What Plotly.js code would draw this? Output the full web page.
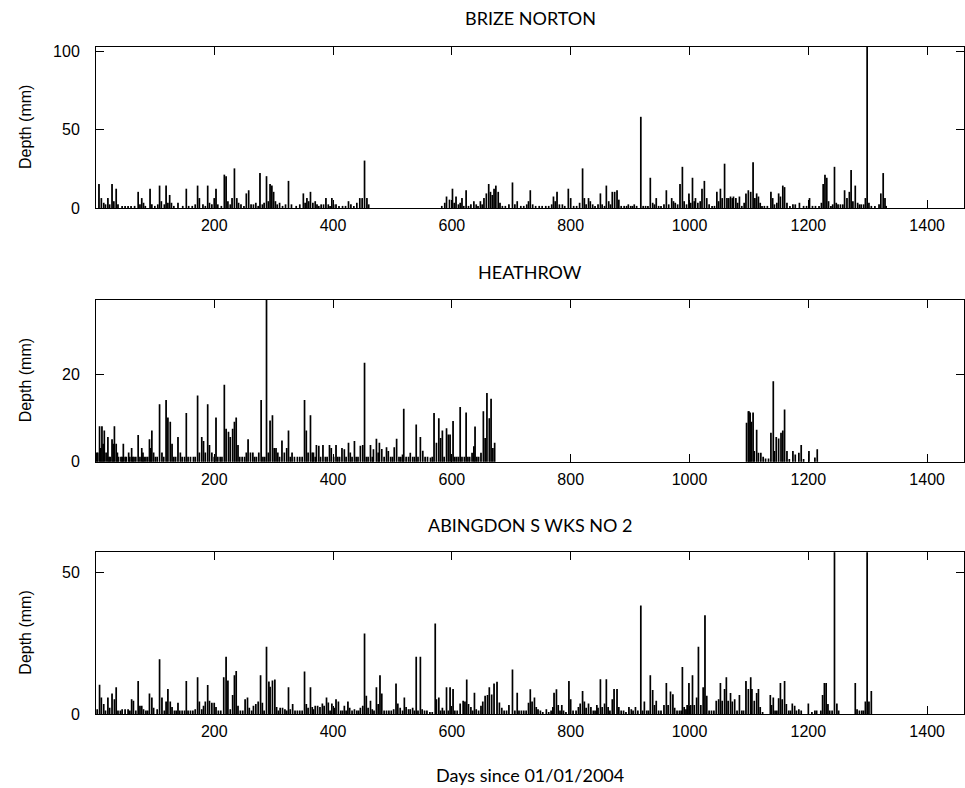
<!DOCTYPE html>
<html>
<head>
<meta charset="utf-8">
<script src="https://cdn.plot.ly/plotly-3.0.1.min.js"></script>
<style>html,body{margin:0;padding:0;background:#fff;}</style>
</head>
<body>
<div id="chart" style="width:965px;height:788px;"></div>
<script>
// Daily rainfall depth (mm): [day, depth]; unlisted days are dry / no data
const stationTitles = ["BRIZE NORTON", "HEATHROW", "ABINGDON S WKS NO 2"];
const xTicks = [200, 400, 600, 800, 1000, 1200, 1400];
const yTicksBrize = [0, 50, 100];
const yTicksHeathrow = [0, 20];
const yTicksAbingdon = [0, 50];
const yMaxBrize = 103, yMaxHeathrow = 37, yMaxAbingdon = 57;

const brizeNorton = [[6,15],[10,6],[14,3],[17,2],[21,6],[24,2],[28,15],[31,4],[35,12],[38,2],[45,1],[50,1],[55,1],[60,1],[66,1],[72,10],[75,2],[78,6],[81,3],[84,1],[92,12],[95,2],[100,1],[105,2],[108,14],[111,4],[116,2],[119,14],[122,3],[125,8],[128,3],[132,1],[139,3],[147,1],[153,12],[157,1],[163,1],[168,2],[172,14],[175,6],[181,2],[185,1],[189,14],[192,3],[196,2],[200,6],[203,12],[206,2],[212,1],[217,21],[220,20],[223,4],[227,2],[230,6],[234,25],[238,6],[241,3],[245,2],[250,1],[254,9],[258,11],[262,2],[266,2],[270,3],[274,1],[277,22],[281,2],[284,3],[288,20],[291,4],[294,15],[297,14],[300,10],[303,4],[306,2],[310,3],[315,1],[320,2],[325,17],[330,2],[338,1],[344,2],[350,9],[353,3],[356,6],[359,4],[362,10],[366,3],[370,4],[373,2],[376,1],[380,2],[384,2],[388,6],[392,2],[395,1],[398,6],[401,2],[405,2],[410,1],[416,1],[421,1],[426,4],[430,2],[435,1],[440,3],[445,6],[449,6],[453,30],[457,6],[460,2],
[583,1],[588,3],[591,7],[596,5],[601,12],[604,3],[607,7],[611,2],[614,3],[617,6],[620,1],[624,11],[628,1],[632,2],[637,4],[641,2],[644,1],[648,4],[651,2],[654,6],[658,9],[662,15],[665,10],[668,8],[671,12],[674,14],[678,10],[681,3],[685,1],[690,1],[696,2],[702,16],[706,2],[710,4],[716,1],[721,1],[726,2],[729,4],[732,11],[736,2],[741,1],[747,1],[752,1],[758,1],[763,1],[768,2],[771,7],[774,4],[777,10],[781,2],[786,2],[790,1],[796,12],[800,6],[805,1],[810,1],[815,3],[820,25],[823,6],[826,2],[830,6],[833,4],[837,2],[841,1],[846,2],[850,9],[853,2],[857,1],[860,14],[864,4],[867,2],[870,10],[874,10],[878,11],[881,5],[885,1],[890,1],[894,1],[897,2],[901,1],[904,1],[907,2],[911,1],[918,58],[922,1],[926,1],[930,1],[934,19],[938,3],[941,2],[944,6],[948,1],[952,1],[957,2],[961,11],[965,2],[970,6],[973,4],[976,3],[980,2],[984,15],[988,26],[991,4],[995,2],[999,9],[1002,3],[1005,19],[1008,4],[1010,6],[1014,3],[1018,4],[1021,12],[1025,17],[1029,6],[1033,2],[1038,1],[1042,1],[1046,10],[1049,4],[1052,12],[1055,6],[1059,28],[1063,6],[1066,6],[1069,7],[1072,6],[1074,7],[1078,6],[1081,3],[1084,7],[1088,1],[1092,3],[1095,9],[1099,11],[1103,10],[1107,29],[1110,6],[1113,9],[1116,7],[1119,3],[1122,1],[1126,1],[1131,1],[1137,10],[1140,6],[1143,2],[1147,3],[1150,9],[1153,7],[1157,14],[1160,13],[1164,3],[1169,1],[1174,2],[1178,2],[1185,3],[1192,1],[1197,1],[1202,6],[1207,1],[1212,1],[1218,1],[1222,3],[1225,15],[1228,21],[1231,19],[1234,4],[1238,1],[1241,2],[1244,26],[1247,3],[1250,2],[1254,2],[1258,2],[1261,11],[1265,6],[1269,10],[1272,24],[1275,4],[1279,14],[1283,3],[1286,2],[1289,2],[1293,2],[1296,6],[1299,103],[1302,3],[1306,1],[1312,1],[1319,2],[1322,9],[1326,22],[1329,6],[1331,1]];

const heathrow = [[2,2],[4,2],[7,8],[9,3],[11,8],[13,4],[15,7],[18,2],[21,5.5],[23,1],[25,1],[28,5],[30,4],[32,8],[35,4],[37,2],[39,1],[43,1],[45,1],[47,4],[50,1],[52,1],[56,2],[58,1],[61,3],[63,1],[65,1],[68,1],[72,6],[75,1],[78,3],[80,2],[82,1],[85,1],[88,1],[91,5],[93,3],[95,7],[98,2],[101,1],[104,1],[108,13],[112,2],[115,1],[119,14],[122,10],[126,9],[129,4],[132,1],[135,1],[139,5.5],[143,2],[146,1],[150,1],[153,11],[156,1],[160,1],[165,1],[168,1],[172,15],[175,2],[179,5.5],[182,4.6],[185,2],[189,13],[192,3.7],[196,2],[200,1],[203,10],[206,1],[210,1],[213,1],[217,17.5],[220,7.4],[224,6.7],[227,5.5],[231,7.4],[234,9],[237,10],[240,3.7],[243,1],[247,1],[251,1],[254,2],[257,5],[261,2],[265,2],[268,1],[271,1],[275,2],[279,14],[282,1],[285,1],[288,37],[291,2],[294,9.3],[298,10.5],[301,3],[304,3],[307,2],[310,1],[314,4.7],[318,2],[322,3],[325,7],[328,1],[331,2],[335,1],[340,1],[344,1],[348,1],[352,14],[355,7],[358,2],[362,10.5],[365,2],[367,2],[370,1],[372,3.7],[376,3.5],[379,1],[383,3.7],[387,1],[390,1],[394,3.7],[397,3],[401,1],[405,3.7],[408,1],[411,1],[415,3],[419,2.7],[422,1],[426,4.2],[429,2],[432,1],[436,4.6],[439,1],[442,1],[446,3.5],[450,3.7],[453,22.5],[456,1],[459,1],[463,3.7],[466,1],[468,2.7],[473,5.1],[476,2],[478,4.2],[482,2.8],[486,1],[490,3.2],[493,2.3],[497,1],[500,1],[503,3.2],[507,5.1],[511,1],[514,1],[517,1.5],[519,12],[523,1],[527,1],[530,1.9],[534,1],[537,1],[540,8.4],[543,1],[547,5.5],[551,2.4],[555,1],[559,1],[564,0.8],[567,1],[570,11],[574,4.2],[578,9.8],[581,5.3],[584,7],[587,1],[591,7.5],[594,6.1],[597,6.1],[602,9.2],[605,1],[608,1],[611,1],[614,12.4],[617,1],[621,1],[624,11.1],[627,1],[630,1],[634,1.9],[637,3.4],[639,7.9],[642,1],[645,1],[649,1.9],[653,11.4],[656,5.3],[659,15.6],[663,9.8],[666,14.3],[669,3],[672,4.2],
[1096,8.8],[1099,11.4],[1100,11.4],[1102,11.1],[1104,9],[1107,11.1],[1109,2.3],[1113,7.2],[1116,1.9],[1120,1.9],[1124,1],[1128,0.6],[1133,0.6],[1137,6.5],[1141,18.3],[1143,2.3],[1146,5.5],[1150,5.2],[1154,6.5],[1157,7],[1160,11.8],[1164,2.3],[1168,0.5],[1174,2.3],[1178,1.5],[1184,1.9],[1188,3.7],[1192,0.5],[1201,2.3],[1211,0.8],[1215,2.7]];

const abingdon = [[3,1.5],[7,10.1],[10,5.6],[14,3.3],[17,1],[21,5.6],[24,2],[28,7],[32,5],[35,9.2],[38,1],[42,1],[45,1.5],[50,1.5],[55,1.5],[58,1],[61,5],[64,4.5],[68,1],[72,11.4],[75,2.7],[78,2.7],[81,1.5],[85,1],[88,1],[91,7],[95,5.6],[98,2],[104,1.5],[108,19.1],[112,5.6],[116,1],[119,4.2],[122,8.6],[126,4.2],[129,2.3],[133,1],[136,1],[139,3.8],[142,1],[146,1],[150,1],[153,11.4],[156,1],[160,1],[164,1],[168,1.5],[172,12.8],[175,4.2],[179,1.5],[182,2.7],[185,4.2],[189,10],[192,4.5],[196,3.8],[200,3.8],[203,2.3],[207,1],[211,1],[216,12.8],[220,20],[223,11.6],[227,1.5],[231,6.5],[234,13.5],[237,15],[240,2.7],[244,1],[248,1],[252,5],[256,5.6],[259,2],[263,1],[266,2.7],[270,3.3],[274,4.2],[278,13.5],[281,3.8],[284,1],[288,23.5],[292,11.3],[294,9.4],[298,11.6],[302,12],[305,2.3],[308,1],[311,2],[315,2],[319,1.5],[322,1],[325,9.2],[328,1.5],[332,3.3],[336,1],[340,1],[344,1],[348,1],[352,14.8],[355,3.3],[358,2],[362,9.2],[365,2.3],[367,1.5],[370,2.7],[374,2.7],[378,2.3],[382,3.5],[385,2.7],[389,5.6],[392,3.9],[395,1],[398,3.5],[402,2],[405,5],[409,4.2],[413,1],[416,1],[419,2.7],[422,1],[425,4.2],[428,2],[432,1],[436,1.5],[440,1],[443,1],[446,2],[450,2.7],[453,28.2],[456,6.2],[459,2],[463,4.5],[466,1.5],[469,1],[473,9.2],[476,3.3],[479,13.5],[482,7],[486,1],[490,1],[494,1],[498,1],[502,1.5],[506,10.6],[509,3.5],[513,2],[517,1],[520,5.6],[523,2.3],[527,1.5],[530,1.5],[534,2],[537,1],[540,20],[543,1],[547,20],[550,1.5],[554,1],[558,1],[563,0.5],[567,0.5],[572,31.7],[574,5],[578,5.6],[581,1],[584,2],[587,1],[591,9.2],[594,1],[597,9.2],[602,8.6],[605,1],[609,1],[614,3.5],[619,4.5],[622,4.2],[625,12],[628,3.3],[632,2.3],[635,1],[638,7.3],[641,1.5],[645,1],[649,2.7],[652,4.2],[656,6.2],[660,6.5],[663,9.2],[667,6.7],[671,10.6],[676,11.2],[680,3.9],[684,2],[688,1],[692,1],[696,3],[702,15.5],[706,1],[710,7.3],[713,1],[717,1],[721,1],[725,1],[729,3.8],[732,8.5],[735,4.2],[739,5.6],[742,2.3],[745,1.5],[749,1],[753,0.5],[759,1.5],[763,0.5],[767,1],[770,2.3],[772,7.3],[776,8.5],[779,3],[782,1],[785,3],[788,1],[792,0.5],[797,11.4],[800,5],[804,1],[809,1],[813,2.3],[816,3.5],[820,7.9],[823,4.2],[826,2],[830,3.5],[834,2.3],[838,1],[841,1],[844,3],[846,2],[850,12.1],[853,2.3],[857,3.5],[860,12.1],[863,2.3],[866,1],[870,5],[873,8.6],[878,8.6],[881,2.3],[885,1],[889,1],[893,0.5],[898,2.3],[902,1.5],[905,1],[909,2.3],[913,1],[918,38.1],[921,1],[924,4.2],[928,1],[931,1],[934,13.5],[938,8.3],[941,3],[944,4.5],[948,1],[952,1],[957,3],[961,10.7],[964,3],[968,7.7],[972,6.8],[975,2],[979,1],[983,1],[986,1],[988,16.4],[991,2.3],[994,1.5],[996,3],[999,10.7],[1002,3],[1005,13.5],[1008,3],[1012,5.6],[1015,23.5],[1019,3],[1023,9.2],[1026,34.6],[1029,6.2],[1033,1],[1037,1],[1041,1],[1045,4.5],[1049,5],[1052,10.7],[1055,4.5],[1059,8.6],[1062,12.8],[1065,4.5],[1069,7.2],[1072,4.2],[1076,5],[1080,1],[1084,6.5],[1088,1],[1091,1],[1095,11.4],[1099,8.6],[1103,12.8],[1105,8.6],[1109,4.5],[1113,7.2],[1116,8.6],[1119,2.3],[1123,0.5],[1136,6.5],[1138,3],[1141,5.6],[1144,1],[1147,1],[1150,5.4],[1153,10.7],[1156,5],[1160,11.4],[1163,3.3],[1167,1],[1170,1],[1173,3.5],[1177,2.7],[1180,1],[1184,1.5],[1188,1],[1200,3.5],[1206,0.5],[1211,1],[1214,1],[1221,1],[1224,6.5],[1227,10.7],[1230,10.7],[1233,3.3],[1236,1],[1240,1],[1244,57],[1248,3.5],[1251,1],[1279,10.7],[1282,1.5],[1286,1],[1290,1],[1293,1],[1296,4.2],[1299,57],[1302,4.2],[1306,7.9]];

function barTrace(pairs, xa, ya) {
  return {
    type: 'bar', x: pairs.map(p => p[0]), y: pairs.map(p => p[1]),
    width: 1, xaxis: xa, yaxis: ya, hoverinfo: 'x+y',
    marker: {color: '#000', line: {color: '#000', width: 1.1}}
  };
}

const traces = [
  barTrace(brizeNorton, 'x', 'y'),
  barTrace(heathrow, 'x2', 'y2'),
  barTrace(abingdon, 'x3', 'y3')
];

const tickFont = {family: 'Liberation Sans, Arial, sans-serif', size: 16, color: '#000'};
function xAxis(domainAnchor) {
  return {
    range: [1, 1462], tickvals: xTicks, ticks: 'inside', ticklen: 8, tickwidth: 1,
    tickcolor: '#000', showline: true, linecolor: '#000', linewidth: 1, mirror: 'ticks',
    showgrid: false, zeroline: false, tickfont: tickFont, anchor: domainAnchor,
    ticklabelstandoff: 3, fixedrange: true
  };
}
function yAxis(dom, max, tv) {
  return {
    domain: dom, range: [0, max], tickvals: tv, ticks: 'inside', ticklen: 8, tickwidth: 1,
    tickcolor: '#000', showline: true, linecolor: '#000', linewidth: 1, mirror: 'ticks',
    showgrid: false, zeroline: false, tickfont: tickFont, ticklabelstandoff: 12, fixedrange: true
  };
}

const titleFont = {family: 'Lato, Open Sans, sans-serif', size: 18, color: '#000'};
const yTitleFont = {family: 'Liberation Sans, Arial, sans-serif', size: 16, color: '#000'};

const layout = {
  width: 965, height: 788,
  margin: {l: 95.5, r: 1, t: 47, b: 74, pad: 0},
  paper_bgcolor: '#fff', plot_bgcolor: '#fff',
  showlegend: false, bargap: 0,
  xaxis: xAxis('y'), xaxis2: xAxis('y2'), xaxis3: xAxis('y3'),
  yaxis: yAxis([0.7586, 1], yMaxBrize, yTicksBrize),
  yaxis2: Object.assign(yAxis([0.3783, 0.6207], yMaxHeathrow, yTicksHeathrow), {anchor: 'x2'}),
  yaxis3: Object.assign(yAxis([0, 0.2424], yMaxAbingdon, yTicksAbingdon), {anchor: 'x3'}),
  annotations: [
    {text: stationTitles[0], xref: 'paper', yref: 'paper', x: 0.5, y: 1.0435, showarrow: false, font: titleFont, xanchor: 'center', yanchor: 'middle'},
    {text: stationTitles[1], xref: 'paper', yref: 'paper', x: 0.5, y: 0.6627, showarrow: false, font: titleFont, xanchor: 'center', yanchor: 'middle'},
    {text: stationTitles[2], xref: 'paper', yref: 'paper', x: 0.5, y: 0.2834, showarrow: false, font: titleFont, xanchor: 'center', yanchor: 'middle'},
    {text: 'Days since 01/01/2004', xref: 'paper', yref: 'paper', x: 0.5, y: -0.0915, showarrow: false, font: titleFont, xanchor: 'center', yanchor: 'middle'},
    {text: 'Depth (mm)', xref: 'paper', yref: 'paper', x: -0.0812, y: 0.8793, textangle: -90, showarrow: false, font: yTitleFont, xanchor: 'center', yanchor: 'middle'},
    {text: 'Depth (mm)', xref: 'paper', yref: 'paper', x: -0.0812, y: 0.4995, textangle: -90, showarrow: false, font: yTitleFont, xanchor: 'center', yanchor: 'middle'},
    {text: 'Depth (mm)', xref: 'paper', yref: 'paper', x: -0.0812, y: 0.1212, textangle: -90, showarrow: false, font: yTitleFont, xanchor: 'center', yanchor: 'middle'}
  ]
};

Plotly.newPlot('chart', traces, layout, {displayModeBar: false, staticPlot: true});
</script>
</body>
</html>
